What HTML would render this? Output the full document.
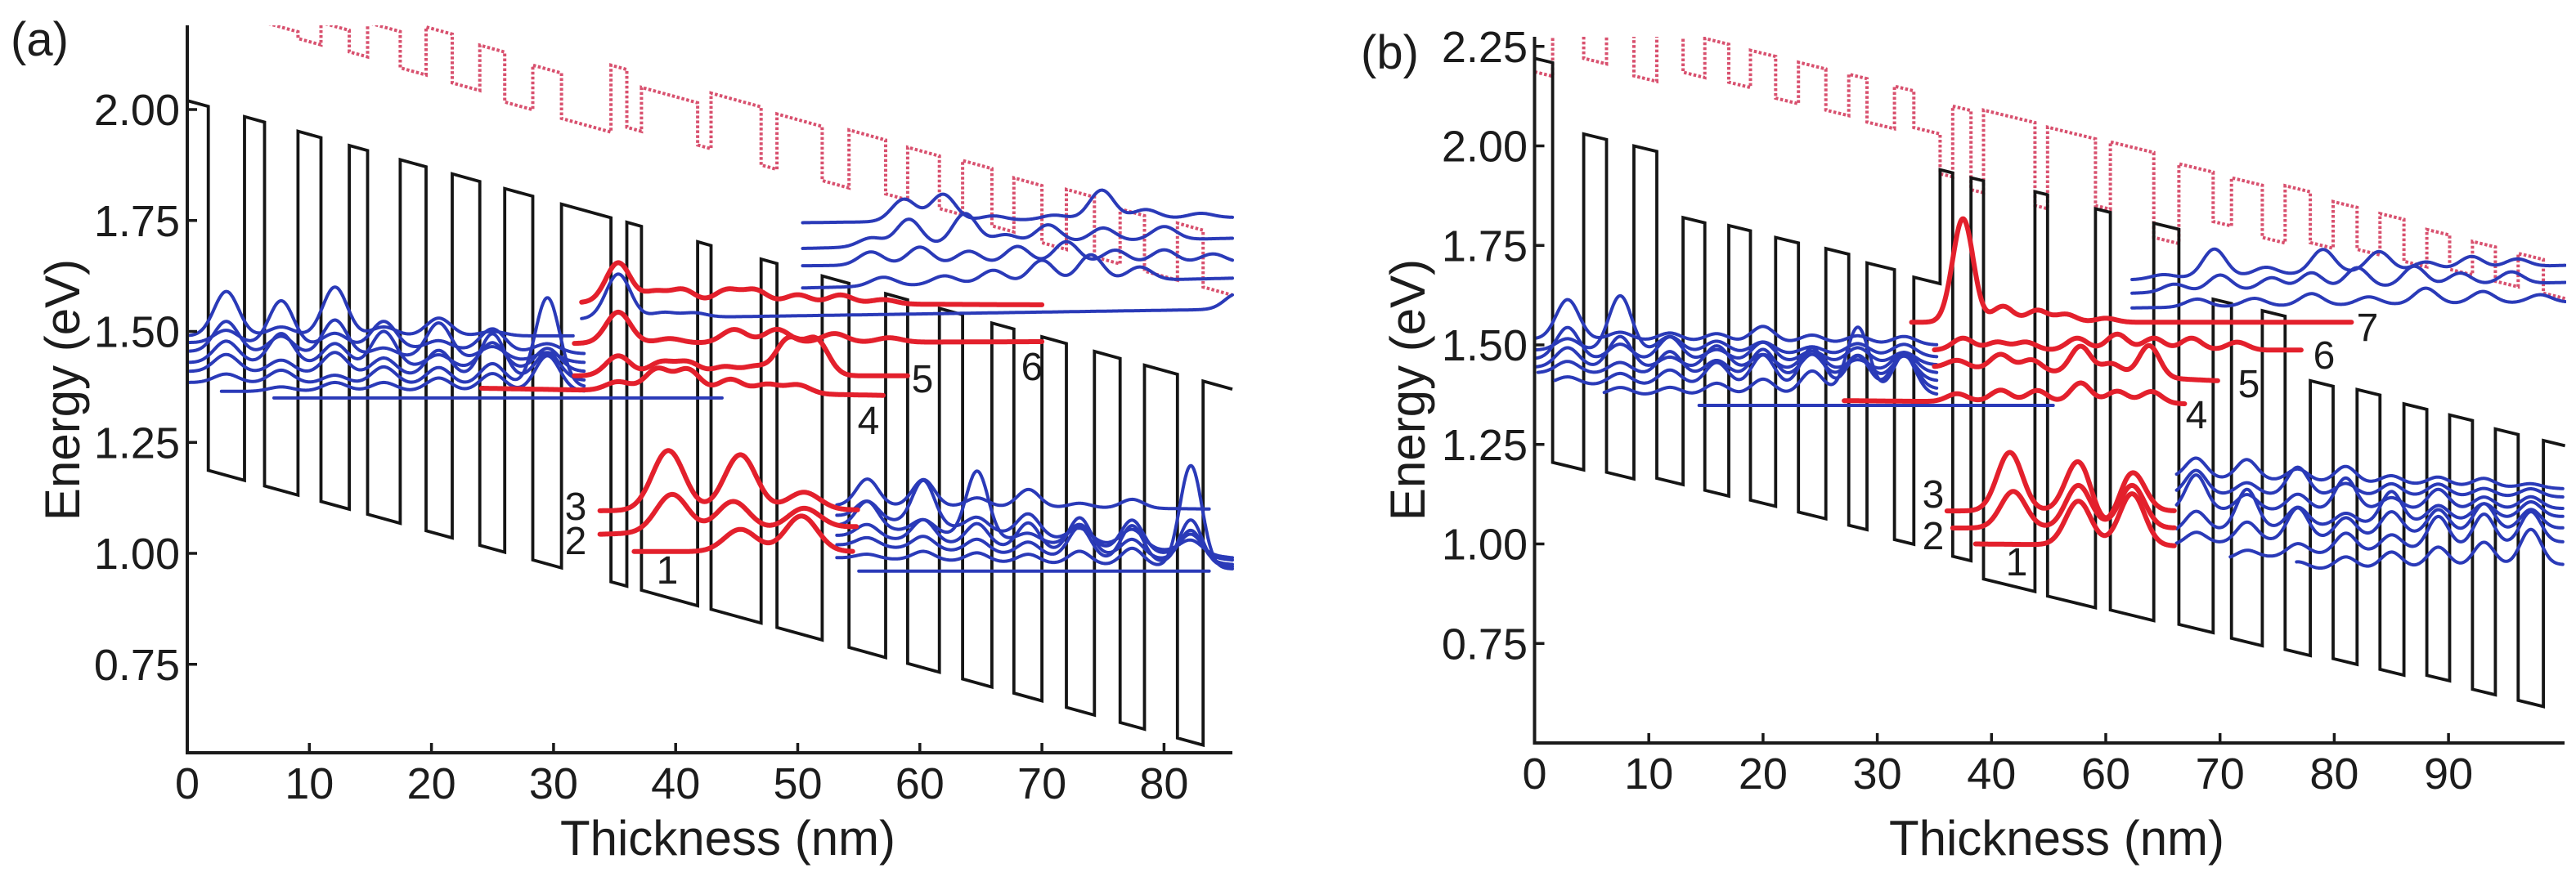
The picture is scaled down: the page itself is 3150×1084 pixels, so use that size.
<!DOCTYPE html>
<html><head><meta charset="utf-8">
<style>
body{margin:0;background:#fff}
svg{display:block}
text{font-family:"Liberation Sans",Arial,sans-serif;fill:#1c1c1c}
</style></head>
<body>
<svg id="chart" width="3150" height="1084" viewBox="0 0 3150 1084">
<defs>
<clipPath id="clipA"><rect x="229" y="31" width="1280" height="890"/></clipPath>
<clipPath id="clipB"><rect x="1876" y="45" width="1262" height="864"/></clipPath>
</defs>
<g id="panelA">
  <text x="13" y="68" font-size="58">(a)</text>
  <text transform="translate(97,477) rotate(-90)" text-anchor="middle" font-size="60">Energy (eV)</text>
  <text x="890" y="1046" text-anchor="middle" font-size="60">Thickness (nm)</text>
  <g id="plotA" clip-path="url(#clipA)"></g>
  <g id="axesA"></g>
  <g font-size="48" text-anchor="middle">
    <text x="704" y="636">3</text>
    <text x="704" y="678">2</text>
    <text x="816" y="714">1</text>
    <text x="1062" y="531">4</text>
    <text x="1128" y="480">5</text>
    <text x="1262" y="465">6</text>
  </g>
</g>
<g id="panelB">
  <text x="1664" y="84" font-size="58">(b)</text>
  <text transform="translate(1742,477) rotate(-90)" text-anchor="middle" font-size="60">Energy (eV)</text>
  <text x="2515" y="1046" text-anchor="middle" font-size="60">Thickness (nm)</text>
  <g id="plotB" clip-path="url(#clipB)"></g>
  <g id="axesB"></g>
  <g font-size="48" text-anchor="middle">
    <text x="2895" y="417">7</text>
    <text x="2842" y="451">6</text>
    <text x="2750" y="486">5</text>
    <text x="2686" y="524">4</text>
    <text x="2364" y="621">3</text>
    <text x="2364" y="672">2</text>
    <text x="2466" y="704">1</text>
  </g>
</g>
</svg>
<script>
// ---------- Panel A data ----------
const aYTicks = [0.75, 1.00, 1.25, 1.50, 1.75, 2.00];
const aXTicks = [0, 10, 20, 30, 40, 50, 60, 70, 80];
const aXTickLabels = ['0','10','20','30','40','50','60','70','80'];
const aLayerX = [0,1.72,4.69,6.33,9.07,10.95,13.27,14.77,17.44,19.56,21.7,23.96,26.0,28.3,30.65,34.7,36.0,37.2,41.8,42.9,47.0,48.3,52.0,54.2,57.2,59.0,61.6,63.5,65.9,67.7,70.0,72.0,74.3,76.4,78.4,81.1,83.2,85.6];
const aBandE = [2.02,1.187,1.984,1.152,1.951,1.117,1.919,1.088,1.887,1.051,1.855,1.018,1.822,0.985,1.787,0.936,1.746,0.917,1.702,0.874,1.663,0.833,1.625,0.788,1.585,0.752,1.552,0.717,1.519,0.685,1.488,0.653,1.455,0.619,1.424,0.584,1.388];
const aRedE = [2.25,2.30,2.22,2.196,2.16,2.196,2.13,2.196,2.094,2.186,2.06,2.145,2.017,2.10,1.98,2.10,1.96,2.05,1.92,2.037,1.875,1.99,1.84,1.954,1.81,1.915,1.777,1.885,1.738,1.846,1.70,1.82,1.668,1.776,1.636,1.744,1.60];
const aSlope = -0.0076;

const aBlueLPeakX = [3.2,7.7,12.1,16.1,20.6,25.0,29.5];
const aBlueLStart = [0,0,0,0,0,0,2.8];
const aBlueLEnd = [31.6,32.5,32.5,32.5,32.5,32.5,32.5];
const aBlueLBase0 = [1.49,1.475,1.455,1.43,1.41,1.385,1.365];
const aBlueLBase1 = [1.49,1.45,1.43,1.41,1.39,1.375,1.365];
const aBlueLAmps = [
 [0.10,0.02,0.11,0.02,0.04,0.01,0.00],
 [0.03,0.10,0.03,0.06,0.02,0.05,0.02],
 [0.07,0.04,0.08,0.02,0.08,0.03,0.02],
 [0.05,0.07,0.05,0.08,0.03,0.06,0.05],
 [0.04,0.03,0.05,0.04,0.06,0.10,0.06],
 [0.02,0.03,0.02,0.04,0.04,0.05,0.20],
 [0.00,0.01,0.02,0.02,0.03,0.04,0.08]];
const aBlueFlatStart = [7.1];
const aBlueFlatEnd = [43.8];
const aBlueFlatE = [1.35];

const aBlueMidStart = [32.3];
const aBlueMidEnd = [85.6];
const aBlueMidBase0 = [1.528];
const aBlueMidBase1 = [1.55];
const aBlueMidPeakX = [[35.3,39.0,41.5,86.0]];
const aBlueMidAmps = [[0.10,0.012,0.01,0.035]];

const aRedUStart = [32.3,31.7,31.7,24.1];
const aRedUEnd = [70,70,59,57];
const aRedUBase0 = [1.565,1.473,1.40,1.372];
const aRedUBase1 = [1.56,1.477,1.40,1.356];
const aRedUPeakX = [
 [35.3,38.3,40.6,44.2,46.5,50,53.5,57],
 [35.3,39.5,44.8,48.3,53,57.5],
 [35.3,38.8,41.0,44,46.5,49.2,51.5],
 [35.3,38.5,41,44.5,47.5,50]];
const aRedUAmps = [
 [0.09,0.025,0.03,0.03,0.03,0.02,0.02,0.01],
 [0.07,0.01,0.03,0.03,0.02,0.01],
 [0.045,0.03,0.03,0.02,0.02,0.08,0.08],
 [0.02,0.05,0.05,0.03,0.02,0.02]];

const aRedLStart = [33.8,33.8,36.6];
const aRedLEnd = [54.9,54.8,54.5];
const aRedLBase0 = [1.096,1.043,1.004];
const aRedLBase1 = [1.098,1.06,1.004];
const aRedLPeakX = [[39.4,45.3,50.5],[39.7,44.7,50.5],[45.3,50.3]];
const aRedLAmps = [[0.135,0.125,0.04],[0.085,0.065,0.045],[0.05,0.08]];

const aBlueRPeakX = [55.7,60.3,64.7,68.9,73.1,77.4,82.2];
const aBlueRStart = [53.2,53.2,53.2,53.2,53.2,53.2,55];
const aBlueREnd = [83.7,85.6,85.6,85.6,85.6,85.6,83.7];
const aBlueRBase0 = [1.108,1.085,1.063,1.04,1.019,0.99,0.96];
const aBlueRBase1 = [1.10,0.99,0.985,0.975,0.97,0.965,0.96];
const aBlueRAmps = [
 [0.06,0.06,0.02,0.04,0.01,0.02,0.00],
 [0.04,0.10,0.03,0.05,0.03,0.04,0.03],
 [0.06,0.03,0.15,0.02,0.05,0.07,0.05],
 [0.03,0.05,0.05,0.06,0.08,0.04,0.07],
 [0.02,0.03,0.03,0.03,0.07,0.08,0.10],
 [0.01,0.02,0.02,0.02,0.03,0.04,0.23],
 [0,0,0,0,0,0,0]];

const aBlueUStart = [50.4,50.4,50.4,50.4];
const aBlueUEnd = [85.6,85.6,85.6,85.6];
const aBlueUBase0 = [1.745,1.687,1.648,1.598];
const aBlueUBase1 = [1.757,1.71,1.655,1.62];
const aBlueUPeakX = [
 [58.7,61.9,66,71,74.9,78.5,83],
 [56,59.1,63.7,67,70.5,75,80],
 [56,60,64,68,72,76,80,84],
 [57,62,66,70,74,78]];
const aBlueUAmps = [
 [0.05,0.06,0.01,0.01,0.065,0.02,0.01],
 [0.02,0.06,0.07,0.02,0.04,0.03,0.03],
 [0.03,0.04,0.03,0.04,0.05,0.03,0.03,0.02],
 [0.02,0.02,0.03,0.05,0.06,0.03]];

// ---------- Panel B data ----------
const bYTicks = [0.75, 1.00, 1.25, 1.50, 1.75, 2.00, 2.25];
const bXTicks = [0, 10, 20, 30, 40, 50, 60, 70, 80];
const bXTickLabels = ['0','10','20','30','40','60','70','80','90'];
const bLayerX = [0,1.58,4.3,6.3,8.7,10.7,13.0,14.9,17.0,18.9,21.1,23.1,25.5,27.5,29.1,31.5,33.2,35.5,36.6,38.2,39.3,43.8,44.9,49.1,50.4,54.2,56.4,59.4,61.0,63.7,65.7,67.9,69.9,72.0,74.0,76.1,78.1,80.1,82.1,84.1,86.1,88.3,90.2];
const bBandE = [2.22,1.205,2.03,1.18,2.00,1.165,1.82,1.135,1.80,1.11,1.77,1.08,1.742,1.047,1.706,1.011,1.67,1.94,0.969,1.92,0.912,1.885,0.869,1.842,0.834,1.806,0.798,1.615,0.763,1.586,0.735,1.41,0.712,1.388,0.685,1.352,0.670,1.324,0.635,1.289,0.607,1.26];
const bRedE = [2.186,2.30,2.22,2.30,2.176,2.30,2.185,2.27,2.16,2.24,2.12,2.21,2.09,2.18,2.06,2.15,2.046,1.93,2.10,1.89,2.09,1.85,2.047,1.85,2.01,1.77,1.955,1.81,1.92,1.77,1.90,1.757,1.86,1.74,1.83,1.71,1.79,1.69,1.76,1.66,1.73,1.63];
const bSlope = -0.007;

const bBlueLPeakX = [2.9,7.5,11.85,15.95,20,24.3,28.3,32.35];
const bBlueLStart = [0,0,0,0,0.3,1.8,6.1];
const bBlueLEnd = [35.2,35.2,35.2,35.2,35.2,35.2,35.2];
const bBlueLBase0 = [1.515,1.487,1.465,1.444,1.43,1.40,1.373];
const bBlueLBase1 = [1.50,1.47,1.45,1.43,1.41,1.39,1.375];
const bBlueLAmps = [
 [0.10,0.02,0.02,0.02,0.04,0.02,0.02,0.02],
 [0.03,0.14,0.04,0.03,0.03,0.02,0.03,0.03],
 [0.08,0.04,0.06,0.03,0.05,0.03,0.04,0.03],
 [0.05,0.08,0.03,0.06,0.04,0.05,0.03,0.05],
 [0.03,0.03,0.06,0.04,0.07,0.06,0.06,0.06],
 [0.02,0.03,0.04,0.06,0.08,0.10,0.08,0.09],
 [0.01,0.02,0.02,0.03,0.04,0.06,0.17,0.10]];
const bBlueFlatStart = [14.4];
const bBlueFlatEnd = [45.4];
const bBlueFlatE = [1.348];

const bRedUStart = [33.0,35.0,35.0,27.1];
const bRedUEnd = [71.5,67.1,59.8,56.9];
const bRedUBase0 = [1.557,1.487,1.444,1.36];
const bRedUBase1 = [1.557,1.487,1.41,1.352];
const bRedUPeakX = [
 [37.5,41,44,46.5,50],
 [37.5,40.5,43,47.5,51,54.2,57.5,61.5],
 [37,40.8,43.5,47.8,50.5,53.8],
 [37,40.8,44,47.8,51,54]];
const bRedUAmps = [
 [0.26,0.04,0.03,0.02,0.01],
 [0.03,0.02,0.02,0.03,0.04,0.03,0.03,0.02],
 [0.02,0.04,0.03,0.07,0.03,0.08],
 [0.02,0.03,0.03,0.05,0.03,0.03]];

const bRedLStart = [36.1,36.6,38.6];
const bRedLEnd = [56,56,56];
const bRedLBase0 = [1.083,1.04,1.0];
const bRedLBase1 = [1.083,1.04,0.995];
const bRedLPeakX = [[41.6,47.6,50,52.3],[41.9,47.6,52.3],[47.6,52.3]];
const bRedLAmps = [[0.147,0.127,-0.04,0.10],[0.092,0.107,0.107],[0.11,0.13]];

const bBlueRPeakX = [57.9,62.35,66.8,71,75,79.1,83.1,87.2];
const bBlueRStart = [56.2,56.2,56.2,56.2,56.2,60.9,66.7];
const bBlueREnd = [90,90,90,90,90,90,90];
const bBlueRBase0 = [1.167,1.125,1.083,1.03,0.997,0.962,0.935];
const bBlueRBase1 = [1.139,1.118,1.089,1.069,1.04,1.005,0.948];
const bBlueRAmps = [
 [0.05,0.05,0.03,0.04,0.02,0.02,0.02,0.01],
 [0.06,0.03,0.07,0.03,0.03,0.03,0.02,0.02],
 [0.09,0.04,0.04,0.08,0.03,0.05,0.03,0.03],
 [0.05,0.10,0.05,0.03,0.08,0.04,0.04,0.04],
 [0.03,0.05,0.08,0.05,0.06,0.06,0.07,0.05],
 [0.00,0.02,0.03,0.05,0.04,0.08,0.08,0.08],
 [0.00,0.00,0.02,0.03,0.04,0.05,0.06,0.09]];

const bBlueUStart = [52.3,52.3,52.3];
const bBlueUEnd = [90.2,90.2,90.2];
const bBlueUBase0 = [1.664,1.63,1.593];
const bBlueUBase1 = [1.70,1.657,1.607];
const bBlueUPeakX = [
 [55,59.5,64,69,73.9,78,82,86],
 [56,60,64.5,68,72,77,81,85.5],
 [58,63,68,73,78,83,88]];
const bBlueUAmps = [
 [0.01,0.07,0.02,0.06,0.05,0.02,0.03,0.02],
 [0.02,0.04,0.03,0.04,0.05,0.05,0.03,0.03],
 [0.02,0.02,0.03,0.02,0.04,0.03,0.02]];

// ---------- rendering ----------
const NS = 'http://www.w3.org/2000/svg';
const BLUE = '#2a3ab8', RED = '#e3202c', DOT = '#d8506e';
const panels = {
  A: {x: v => 229 + v * 14.93, y: e => 677 - (e - 1) * 543, x0: 229, x1: 1507, yTop: 31, yBot: 921, lblX: 220},
  B: {x: v => 1876.5 + v * 13.97, y: e => 665.5 - (e - 1) * 487, x0: 1876.5, x1: 3136, yTop: 45, yBot: 909, lblX: 1868}
};

function mk(tag, parent, attrs) {
  const el = document.createElementNS(NS, tag);
  for (const k in attrs) el.setAttribute(k, attrs[k]);
  parent.appendChild(el);
  return el;
}

function profile(P, parent, xs, es, slope, stroke, width, dash, name) {
  const pts = [];
  for (let i = 0; i < es.length; i++) {
    const a = xs[i], b = xs[i + 1];
    pts.push(P.x(a).toFixed(1) + ',' + P.y(es[i]).toFixed(1));
    pts.push(P.x(b).toFixed(1) + ',' + P.y(es[i] + slope * (b - a)).toFixed(1));
  }
  const el = mk('polyline', parent, {points: pts.join(' '), fill: 'none', stroke: stroke, 'stroke-width': width, 'stroke-linejoin': 'miter'});
  if (dash) el.setAttribute('stroke-dasharray', dash);
  
  
}

function curve(P, parent, s, e, b0, b1, px, amps, sigma, color, width, name) {
  const pts = [];
  for (let v = s; v <= e + 1e-9; v += 0.05) {
    const t = (v - s) / Math.max(e - s, 1e-6);
    let E = b0 + (b1 - b0) * t;
    for (let k = 0; k < px.length; k++) {
      const d = (v - px[k]) / sigma;
      E += amps[k] * Math.exp(-0.5 * d * d);
    }
    pts.push(P.x(v).toFixed(1) + ',' + P.y(E).toFixed(1));
  }
  const el = mk('polyline', parent, {points: pts.join(' '), fill: 'none', stroke: color, 'stroke-width': width, 'stroke-linejoin': 'round', 'stroke-linecap': 'round'});
  
  
}

function group(P, parent, starts, ends, b0s, b1s, pxs, ampss, shared, sigma, color, width, prefix) {
  for (let i = 0; i < starts.length; i++) {
    const px = shared ? pxs : pxs[i];
    curve(P, parent, starts[i], ends[i], b0s[i], b1s[i], px, ampss[i], sigma, color, width, prefix + '-' + (i + 1));
  }
}

function flat(P, parent, starts, ends, es, color, width, prefix) {
  for (let i = 0; i < starts.length; i++) {
    curve(P, parent, starts[i], ends[i], es[i], es[i], [], [], 1, color, width, prefix + '-' + (i + 1));
  }
}

function axes(P, parent, yTicks, xTicks, xLabels, tag) {
  const ax = mk('polyline', parent, {points: `${P.x0},${P.yTop} ${P.x0},${P.yBot} ${P.x1},${P.yBot}`, fill: 'none', stroke: '#1a1a1a', 'stroke-width': 4});
  
  
  yTicks.forEach(v => {
    const y = P.y(v);
    const t = mk('line', parent, {x1: P.x0, x2: P.x0 + 12, y1: y, y2: y, stroke: '#1a1a1a', 'stroke-width': 3.5});
    
    
    const l = mk('text', parent, {x: P.lblX, y: y + 19, 'text-anchor': 'end', 'font-size': 54});
    l.textContent = v.toFixed(2);
    
    
  });
  xTicks.forEach((v, i) => {
    const x = P.x(v);
    const t = mk('line', parent, {x1: x, x2: x, y1: P.yBot, y2: P.yBot - 12, stroke: '#1a1a1a', 'stroke-width': 3.5});
    
    
    const l = mk('text', parent, {x: x, y: P.yBot + 56, 'text-anchor': 'middle', 'font-size': 54});
    l.textContent = xLabels[i];
    
    
  });
}

(function () {
  const P = panels.A, g = document.getElementById('plotA');
  profile(P, g, aLayerX, aRedE, aSlope, DOT, 4, '3.5 2.5', 'valence-band-dotted-a');
  profile(P, g, aLayerX, aBandE, aSlope, '#151515', 3.8, null, 'conduction-band-a');
  group(P, g, aBlueLStart, aBlueLEnd, aBlueLBase0, aBlueLBase1, aBlueLPeakX, aBlueLAmps, true, 1.0, BLUE, 4, 'blue-state-left-a');
  flat(P, g, aBlueFlatStart, aBlueFlatEnd, aBlueFlatE, BLUE, 4, 'blue-flat-state-a');
  group(P, g, aBlueUStart, aBlueUEnd, aBlueUBase0, aBlueUBase1, aBlueUPeakX, aBlueUAmps, false, 1.0, BLUE, 4, 'blue-state-upper-right-a');
  group(P, g, aBlueRStart, aBlueREnd, aBlueRBase0, aBlueRBase1, aBlueRPeakX, aBlueRAmps, true, 0.9, BLUE, 4, 'blue-state-lower-right-a');
  group(P, g, aBlueMidStart, aBlueMidEnd, aBlueMidBase0, aBlueMidBase1, aBlueMidPeakX, aBlueMidAmps, false, 1.0, BLUE, 4, 'blue-state-mid-a');
  group(P, g, aRedUStart, aRedUEnd, aRedUBase0, aRedUBase1, aRedUPeakX, aRedUAmps, false, 1.0, RED, 6, 'red-state-upper-a');
  group(P, g, aRedLStart, aRedLEnd, aRedLBase0, aRedLBase1, aRedLPeakX, aRedLAmps, false, 1.3, RED, 6, 'red-state-lower-a');
  axes(P, document.getElementById('axesA'), aYTicks, aXTicks, aXTickLabels, 'a');
})();

(function () {
  const P = panels.B, g = document.getElementById('plotB');
  profile(P, g, bLayerX, bRedE, bSlope, DOT, 4, '3.5 2.5', 'valence-band-dotted-b');
  profile(P, g, bLayerX, bBandE, bSlope, '#151515', 3.8, null, 'conduction-band-b');
  group(P, g, bBlueLStart, bBlueLEnd, bBlueLBase0, bBlueLBase1, bBlueLPeakX, bBlueLAmps, true, 1.0, BLUE, 4, 'blue-state-left-b');
  flat(P, g, bBlueFlatStart, bBlueFlatEnd, bBlueFlatE, BLUE, 4, 'blue-flat-state-b');
  group(P, g, bBlueUStart, bBlueUEnd, bBlueUBase0, bBlueUBase1, bBlueUPeakX, bBlueUAmps, false, 1.0, BLUE, 4, 'blue-state-upper-right-b');
  group(P, g, bBlueRStart, bBlueREnd, bBlueRBase0, bBlueRBase1, bBlueRPeakX, bBlueRAmps, true, 0.9, BLUE, 4, 'blue-state-lower-right-b');
  group(P, g, bRedUStart, bRedUEnd, bRedUBase0, bRedUBase1, bRedUPeakX, bRedUAmps, false, 0.9, RED, 6, 'red-state-upper-b');
  group(P, g, bRedLStart, bRedLEnd, bRedLBase0, bRedLBase1, bRedLPeakX, bRedLAmps, false, 1.1, RED, 6, 'red-state-lower-b');
  axes(P, document.getElementById('axesB'), bYTicks, bXTicks, bXTickLabels, 'b');
})();
</script>
</body></html>
